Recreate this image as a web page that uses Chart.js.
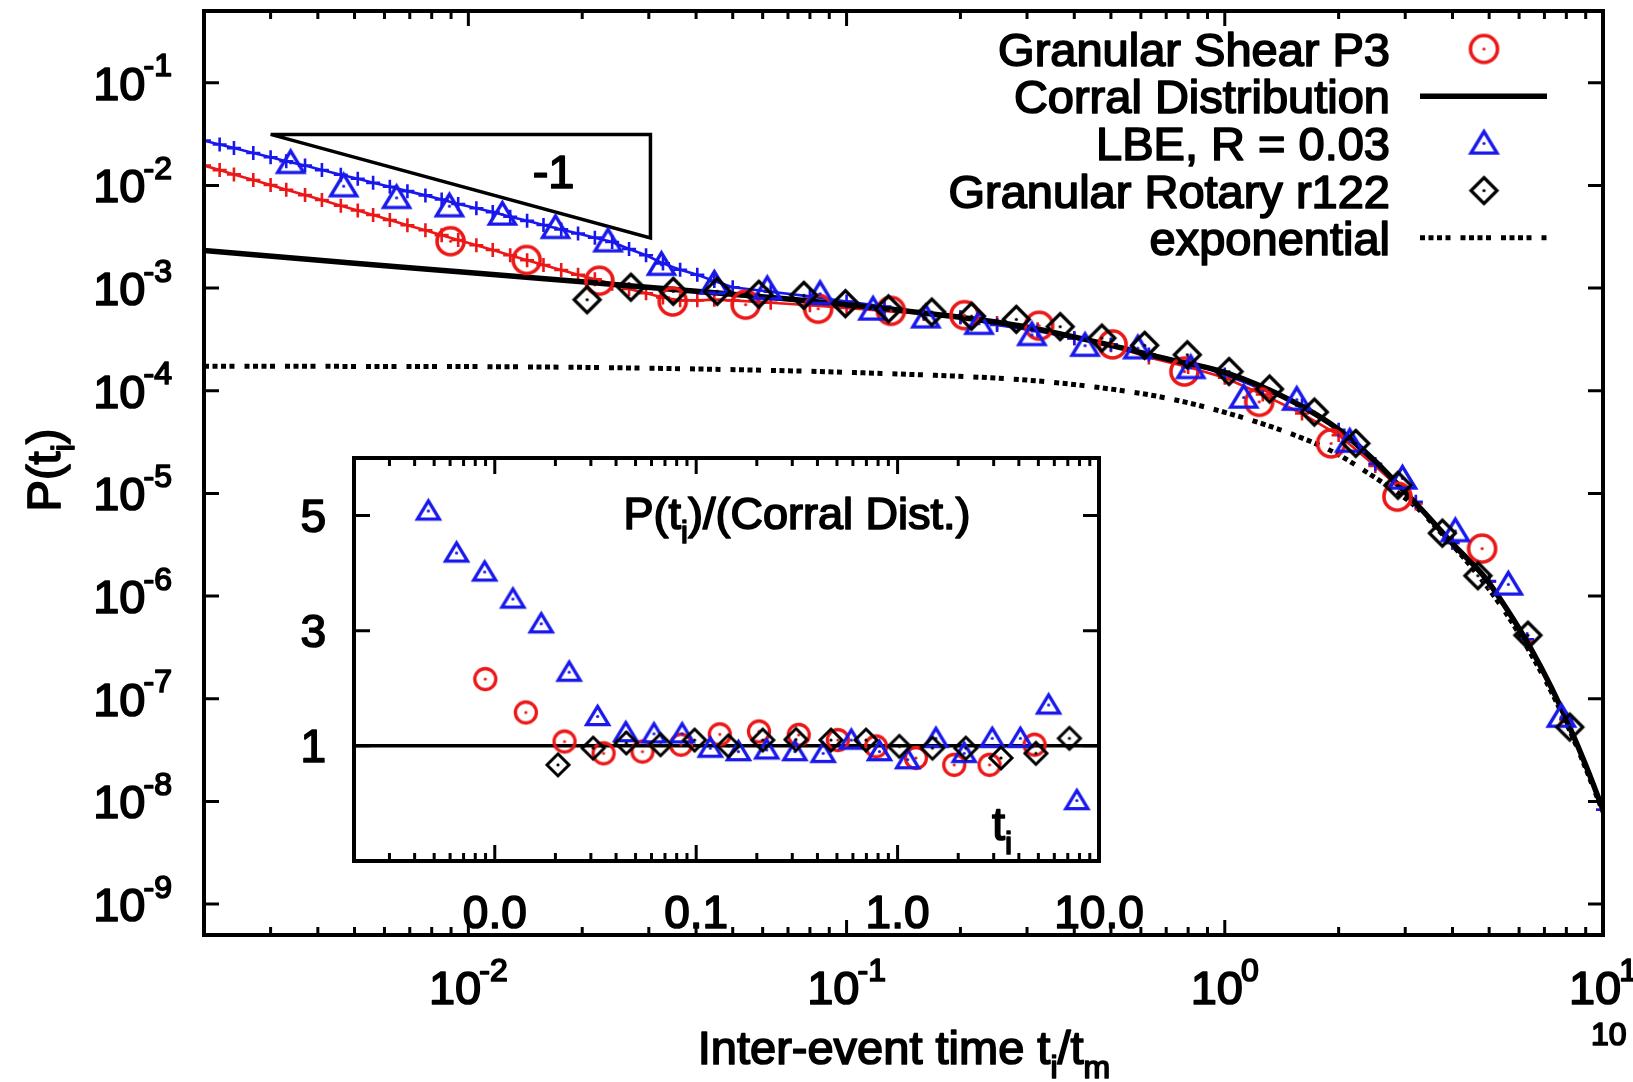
<!DOCTYPE html>
<html>
<head>
<meta charset="utf-8">
<script src="https://cdn.jsdelivr.net/npm/chart.js@4.4.1/dist/chart.umd.min.js"></script>
<style>
  html, body { margin: 0; padding: 0; background: #fff; }
  #wrap { position: relative; width: 1633px; height: 1082px; overflow: hidden; }
  #main { position: absolute; left: 0; top: 0; }
  #inset { position: absolute; left: 270px; top: 420px; }
</style>
</head>
<body>
<div id="wrap">
  <canvas id="main" width="1633" height="1082"></canvas>
  <canvas id="inset" width="900" height="520"></canvas>
</div>
<script>
// valores (t_i/t_m , P(t_i))
const shearX = [0.00897, 0.01426, 0.0222, 0.0347, 0.0541, 0.0841, 0.131, 0.205, 0.323, 0.505, 0.782, 1.233, 1.91, 2.86, 4.79];
const shearY = [2.86e-3, 1.88e-3, 1.18e-3, 7.4e-4, 6.9e-4, 6.3e-4, 6.0e-4, 5.45e-4, 4.3e-4, 2.83e-4, 1.54e-4, 7.8e-5, 3.07e-5, 9.3e-6, 2.9e-6];

const lbeX = [0.00339, 0.00468, 0.00646, 0.00891, 0.0123, 0.0170, 0.0234, 0.0324, 0.0447, 0.0617, 0.0851, 0.1175, 0.162, 0.224, 0.309, 0.427, 0.589, 0.813, 1.122, 1.55, 2.14, 2.95, 4.07, 5.62, 7.76];
const lbeY = [0.0166, 9.84e-3, 7.57e-3, 6.28e-3, 5.21e-3, 3.86e-3, 2.86e-3, 1.69e-3, 1.11e-3, 9.8e-4, 8.8e-4, 6.2e-4, 5.2e-4, 4.5e-4, 3.5e-4, 2.75e-4, 2.6e-4, 1.67e-4, 8.6e-5, 8.2e-5, 3.2e-5, 1.4e-5, 4.3e-6, 1.3e-6, 6.7e-8];

const rotaryX = [0.0206, 0.0269, 0.0348, 0.0455, 0.0586, 0.0771, 0.0993, 0.129, 0.168, 0.214, 0.281, 0.367, 0.473, 0.614, 0.796, 1.026, 1.313, 1.725, 2.22, 2.87, 3.76, 4.67, 6.33, 8.17];
const rotaryY = [7.7e-4, 1.02e-3, 9.3e-4, 9.3e-4, 8.7e-4, 8.5e-4, 7.05e-4, 6.27e-4, 5.84e-4, 5.32e-4, 4.96e-4, 4.21e-4, 3.26e-4, 2.77e-4, 2.24e-4, 1.54e-4, 1.04e-4, 6.2e-5, 3.07e-5, 1.2e-5, 4.1e-6, 1.58e-6, 4.16e-7, 5.3e-8];

const corralX = [0.002, 0.005, 0.01, 0.02, 0.05, 0.1, 0.2, 0.3, 0.5, 0.7, 1, 1.5, 2, 2.5, 2.9, 3.5, 4, 4.85, 5.5, 6.45, 7.3, 8.2, 9, 10];
const corralY = [2.32e-3, 1.75e-3, 1.42e-3, 1.15e-3, 8.7e-4, 6.9e-4, 5.2e-4, 4.17e-4, 2.77e-4, 2.05e-4, 1.51e-4, 8.0e-5, 4.2e-5, 2.06e-5, 1.17e-5, 5.6e-6, 3.24e-6, 1.55e-6, 8.0e-7, 3.07e-7, 1.29e-7, 5.1e-8, 2.26e-8, 8.3e-9];

const expoX = [0.002, 0.01, 0.04, 0.12, 0.3, 0.47, 0.7, 1.06, 1.59, 1.95, 2.38, 3.23, 3.65, 4.5, 5.5, 6.5, 7.5, 8.5, 10];
const expoY = [1.73e-4, 1.72e-4, 1.63e-4, 1.48e-4, 1.27e-4, 1.07e-4, 8.5e-5, 5.8e-5, 3.5e-5, 2.5e-5, 1.6e-5, 7.2e-6, 4.5e-6, 1.9e-6, 7.1e-7, 2.6e-7, 9.6e-8, 3.5e-8, 7.9e-9];

// curvas finas (lineas con +) de LBE y Granular Shear
const fineX = [0.0020, 0.0022, 0.0024, 0.0027, 0.0030, 0.0033, 0.0037, 0.0041, 0.0046, 0.0051, 0.0056, 0.0062, 0.0069, 0.0077, 0.0085, 0.0094, 0.0105, 0.0116, 0.0129, 0.0143, 0.0158, 0.0176, 0.0195, 0.0216, 0.024, 0.0266, 0.0295, 0.0327, 0.0363, 0.0403, 0.0447,
  0.05, 0.063, 0.08, 0.1, 0.126, 0.16, 0.2, 0.25, 0.32, 0.4, 0.5, 0.63, 0.8, 1.0, 1.26, 1.6, 2.0, 2.5, 3.2, 4.0, 5.0, 6.3, 8.0, 10];
const lbeFineY = [0.0273, 0.0250, 0.0231, 0.0207, 0.0188, 0.0172, 0.0156, 0.0141, 0.0127, 0.0116, 0.0106, 0.0097, 0.0088, 0.0080, 0.0073, 0.0066, 0.0060, 0.0055, 0.00495, 0.00452, 0.00412, 0.00373, 0.00340, 0.00310, 0.00281, 0.00240, 0.00209, 0.00174, 0.00151, 0.00135, 0.00117,
  1.02e-3, 9.2e-4, 8.3e-4, 7.4e-4, 6.6e-4, 5.75e-4, 5.2e-4, 4.37e-4, 3.8e-4, 3.24e-4, 2.83e-4, 2.26e-4, 1.86e-4, 1.44e-4, 1.03e-4, 7.2e-5, 4.16e-5, 1.94e-5, 8.3e-6, 3.3e-6, 1.4e-6, 3.8e-7, 6.4e-8, 8.3e-9];
const shearFineY = [0.0156, 0.0141, 0.0128, 0.0113, 0.0101, 0.00908, 0.00805, 0.00720, 0.00635, 0.00569, 0.00515, 0.00461, 0.00410, 0.00366, 0.00328, 0.00294, 0.00261, 0.00235, 0.00209, 0.00187, 0.00168, 0.00150, 0.00135, 0.00122, 0.00110, 0.00098, 0.00089, 0.00081, 0.00076, 0.00076, 0.00077,
  7.6e-4, 7.2e-4, 6.8e-4, 6.4e-4, 6.0e-4, 5.6e-4, 5.2e-4, 4.57e-4, 3.98e-4, 3.24e-4, 2.77e-4, 2.11e-4, 1.7e-4, 1.34e-4, 9.2e-5, 6.0e-5, 3.7e-5, 1.85e-5, 8.0e-6, 3.3e-6, 1.38e-6, 3.6e-7, 6.2e-8, 8.3e-9];

// triangulo de pendiente -1
const slopeX = [0.003, 0.0303, 0.0303, 0.003];
const slopeY = [0.0314, 0.0314, 0.00308, 0.0314];

// recuadro: P(t_i)/(Corral Dist.)
const inShearX = [0.00897, 0.01426, 0.0222, 0.0347, 0.0541, 0.0841, 0.131, 0.205, 0.323, 0.505, 0.782, 1.233, 1.91, 2.86, 4.79];
const inShearY = [2.16, 1.58, 1.075, 0.87, 0.9, 1.02, 1.2, 1.25, 1.19, 1.10, 0.99, 0.79, 0.67, 0.67, 1.02];
const inLbeX = [0.00468, 0.00646, 0.00891, 0.0123, 0.0170, 0.0234, 0.0324, 0.0447, 0.0617, 0.0851, 0.1175, 0.162, 0.224, 0.309, 0.427, 0.589, 0.813, 1.122, 1.55, 2.14, 2.95, 4.07, 5.62, 7.76];
const inLbeY = [5.08, 4.35, 4.02, 3.55, 3.12, 2.28, 1.51, 1.23, 1.21, 1.21, 0.96, 0.90, 0.93, 0.90, 0.87, 1.10, 0.90, 0.76, 1.13, 0.87, 1.13, 1.13, 1.71, 0.05];
const inRotX = [0.0206, 0.0308, 0.045, 0.0665, 0.0982, 0.1445, 0.214, 0.313, 0.467, 0.697, 1.02, 1.49, 2.18, 3.26, 4.86, 7.13];
const inRotY = [0.67, 0.96, 1.05, 1.02, 1.10, 1.0, 1.10, 1.11, 1.10, 1.10, 0.99, 0.96, 0.96, 0.79, 0.87, 1.13];
const inRefX = [0.002, 10];
const inRefY = [1, 1];

// ejes y textos
const yTickExp = [-1, -2, -3, -4, -5, -6, -7, -8, -9];
const xTickExp = [-2, -1, 0, 1];
const insetXTicks = [0.01, 0.1, 1, 10];
const insetXLabels = ['0.0', '0.1', '1.0', '10.0'];
const insetYTicks = [1, 3, 5];
const legendLabels = ['Granular Shear P3', 'Corral Distribution', 'LBE, R = 0.03', 'Granular Rotary r122', 'exponential'];

const RED = '#ec1818';
const BLUE = '#1818ec';
const BLACK = '#000';
const FONT = '"Liberation Sans", Arial, Helvetica, sans-serif';
const EXPO_DASH = [5, 3.5, 5, 3.5, 5, 3.5, 5, 10];

const pts = (xs, ys) => xs.map((x, i) => ({ x, y: ys[i] }));

/** Marcador estilo gnuplot (contorno + punto central) dibujado en un canvas. */
function marcador(forma, s, color, lw) {
  const dim = Math.ceil(2 * s + 2 * lw + 4);
  const c = document.createElement('canvas');
  c.width = c.height = dim;
  const g = c.getContext('2d');
  const m = dim / 2;
  g.strokeStyle = color;
  g.fillStyle = color;
  g.lineWidth = lw;
  g.beginPath();
  if (forma === 'circle') {
    g.arc(m, m, s, 0, Math.PI * 2);
  } else if (forma === 'triangle') {
    g.moveTo(m, m - s * 0.92);
    g.lineTo(m + s, m + s * 0.74);
    g.lineTo(m - s, m + s * 0.74);
    g.closePath();
  } else {
    g.moveTo(m, m - s);
    g.lineTo(m + s, m);
    g.lineTo(m, m + s);
    g.lineTo(m - s, m);
    g.closePath();
  }
  g.stroke();
  g.beginPath();
  g.arc(m, m, 1.6, 0, Math.PI * 2);
  g.fill();
  return c;
}

const circM = marcador('circle', 13.5, RED, 3.6);
const triM = marcador('triangle', 13, BLUE, 3.4);
const diaM = marcador('diamond', 13, BLACK, 3.2);
const circI = marcador('circle', 10.5, RED, 3.3);
const triI = marcador('triangle', 11, BLUE, 3.3);
const diaI = marcador('diamond', 11, BLACK, 3);

/** Texto con sub/superindices: parts = [[texto, ''|'sup'|'sub'], ...] */
function texto(ctx, parts, x, y, size, align) {
  const med = parts.map(([t, tipo]) => {
    const s = tipo ? size * 0.68 : size;
    ctx.font = s + 'px ' + FONT;
    const kern = tipo === 'sup' ? -size * 0.04 : 0;
    return { t, tipo, s, kern, w: ctx.measureText(t).width + kern };
  });
  const total = med.reduce((acc, p) => acc + p.w, 0);
  let cx = align === 'right' ? x - total : align === 'center' ? x - total / 2 : x;
  ctx.textAlign = 'left';
  ctx.textBaseline = 'alphabetic';
  ctx.fillStyle = BLACK;
  ctx.strokeStyle = BLACK;
  ctx.lineWidth = 1.7;
  ctx.lineJoin = 'round';
  med.forEach(p => {
    const dy = p.tipo === 'sup' ? -size * 0.5 : p.tipo === 'sub' ? size * 0.3 : 0;
    ctx.font = p.s + 'px ' + FONT;
    ctx.fillText(p.t, cx + p.kern, y + dy);
    ctx.strokeText(p.t, cx + p.kern, y + dy);
    cx += p.w;
  });
}

function menoresLog(min, max) {
  const out = [];
  for (let e = -4; e <= 2; e++) {
    for (let k = 2; k <= 9; k++) {
      const v = k * Math.pow(10, e);
      if (v > min * 1.0001 && v < max * 0.9999) out.push(v);
    }
  }
  return out;
}

const ejeOculto = {
  display: true,
  grid: { display: false, drawTicks: false },
  border: { display: false },
  ticks: { display: false },
  title: { display: false },
};

const mainDecor = {
  id: 'mainDecor',
  afterDraw(chart) {
    const { ctx, chartArea: a, scales: { x, y } } = chart;
    ctx.save();
    ctx.strokeStyle = BLACK;
    ctx.lineWidth = 3;
    ctx.beginPath();
    yTickExp.forEach(e => {
      const py = y.getPixelForValue(Math.pow(10, e));
      ctx.moveTo(a.left, py); ctx.lineTo(a.left + 15, py);
      ctx.moveTo(a.right, py); ctx.lineTo(a.right - 15, py);
    });
    xTickExp.forEach(e => {
      const px = x.getPixelForValue(Math.pow(10, e));
      ctx.moveTo(px, a.bottom); ctx.lineTo(px, a.bottom - 15);
      ctx.moveTo(px, a.top); ctx.lineTo(px, a.top + 15);
    });
    menoresLog(x.min, x.max).forEach(v => {
      const px = x.getPixelForValue(v);
      ctx.moveTo(px, a.bottom); ctx.lineTo(px, a.bottom - 8);
      ctx.moveTo(px, a.top); ctx.lineTo(px, a.top + 8);
    });
    ctx.stroke();
    ctx.lineWidth = 4;
    ctx.strokeRect(a.left, a.top, a.right - a.left, a.bottom - a.top);

    // etiquetas de ejes
    yTickExp.forEach(e => {
      const py = y.getPixelForValue(Math.pow(10, e));
      texto(ctx, [['10', ''], [String(e), 'sup']], 172, py + 17, 47, 'right');
    });
    xTickExp.forEach(e => {
      const px = x.getPixelForValue(Math.pow(10, e));
      texto(ctx, [['10', ''], [String(e), 'sup']], px, 1004, 47, 'center');
    });
    texto(ctx, [['Inter-event time t', ''], ['i', 'sub'], ['/t', ''], ['m', 'sub']], 904, 1064, 47, 'center');
    ctx.save();
    ctx.translate(43, 470);
    ctx.rotate(-Math.PI / 2);
    texto(ctx, [['P(t', ''], ['i', 'sub'], [')', '']], 0, 17, 47, 'center');
    ctx.restore();
    texto(ctx, [['10', '']], 1591, 1045, 32, 'left');

    // etiqueta de la pendiente
    texto(ctx, [['-1', '']], x.getPixelForValue(0.0168), y.getPixelForValue(0.0138) + 17, 47, 'center');

    // leyenda
    const ly = i => 49 + i * 47.2;
    legendLabels.forEach((t, i) => texto(ctx, [[t, '']], 1390, ly(i) + 17, 47, 'right'));
    const sx = 1484;
    ctx.drawImage(circM, sx - circM.width / 2, ly(0) - circM.height / 2);
    ctx.drawImage(triM, sx - triM.width / 2, ly(2) - triM.height / 2);
    ctx.drawImage(diaM, sx - diaM.width / 2, ly(3) - diaM.height / 2);
    ctx.strokeStyle = BLACK;
    ctx.lineWidth = 5.5;
    ctx.beginPath(); ctx.moveTo(1420, ly(1)); ctx.lineTo(1547, ly(1)); ctx.stroke();
    ctx.lineWidth = 5;
    ctx.setLineDash(EXPO_DASH);
    ctx.beginPath(); ctx.moveTo(1420, ly(4)); ctx.lineTo(1547, ly(4)); ctx.stroke();
    ctx.restore();
  },
};

const insetDecor = {
  id: 'insetDecor',
  afterDraw(chart) {
    const { ctx, chartArea: a, scales: { x, y } } = chart;
    ctx.save();
    ctx.strokeStyle = BLACK;
    ctx.lineWidth = 3;
    ctx.beginPath();
    insetYTicks.forEach(v => {
      const py = y.getPixelForValue(v);
      ctx.moveTo(a.left, py); ctx.lineTo(a.left + 16, py);
      ctx.moveTo(a.right, py); ctx.lineTo(a.right - 16, py);
    });
    insetXTicks.forEach(v => {
      const px = x.getPixelForValue(v);
      ctx.moveTo(px, a.bottom); ctx.lineTo(px, a.bottom - 16);
      ctx.moveTo(px, a.top); ctx.lineTo(px, a.top + 16);
    });
    menoresLog(x.min, x.max).forEach(v => {
      const px = x.getPixelForValue(v);
      ctx.moveTo(px, a.bottom); ctx.lineTo(px, a.bottom - 8);
      ctx.moveTo(px, a.top); ctx.lineTo(px, a.top + 8);
    });
    ctx.stroke();
    ctx.lineWidth = 4;
    ctx.strokeRect(a.left, a.top, a.right - a.left, a.bottom - a.top);

    insetYTicks.forEach(v => {
      texto(ctx, [[String(v), '']], a.left - 28, y.getPixelForValue(v) + 16.5, 46, 'right');
    });
    insetXTicks.forEach((v, i) => {
      texto(ctx, [[insetXLabels[i], '']], x.getPixelForValue(v), a.bottom + 67, 46, 'center');
    });
    texto(ctx, [['P(t', ''], ['i', 'sub'], [')/(Corral Dist.)', '']], 527, 109, 45, 'center');
    texto(ctx, [['t', ''], ['i', 'sub']], 722, 420, 47, 'left');
    ctx.restore();
  },
};

new Chart(document.getElementById('main'), {
  type: 'scatter',
  data: {
    datasets: [
      { label: 'Granular Rotary r122', data: pts(rotaryX, rotaryY), pointStyle: diaM, pointRadius: 5, order: 1 },
      { label: 'LBE, R = 0.03', data: pts(lbeX, lbeY), pointStyle: triM, pointRadius: 5, order: 2 },
      { label: 'Granular Shear P3', data: pts(shearX, shearY), pointStyle: circM, pointRadius: 5, order: 3 },
      { label: 'Corral Distribution', data: pts(corralX, corralY), showLine: true, borderColor: BLACK, borderWidth: 5.5,
        pointRadius: 0, cubicInterpolationMode: 'monotone', order: 4 },
      { label: 'LBE fino', data: pts(fineX, lbeFineY), showLine: true, borderColor: BLUE, borderWidth: 2.6,
        pointStyle: 'cross', pointRadius: 7, pointBorderWidth: 2.6, pointBorderColor: BLUE, order: 5 },
      { label: 'Shear fino', data: pts(fineX, shearFineY), showLine: true, borderColor: RED, borderWidth: 2.6,
        pointStyle: 'cross', pointRadius: 7, pointBorderWidth: 2.6, pointBorderColor: RED, order: 6 },
      { label: 'exponential', data: pts(expoX, expoY), showLine: true, borderColor: BLACK, borderWidth: 5,
        borderDash: EXPO_DASH, pointRadius: 0, cubicInterpolationMode: 'monotone', order: 7 },
      { label: 'pendiente', data: pts(slopeX, slopeY), showLine: true, borderColor: BLACK, borderWidth: 3.5,
        pointRadius: 0, order: 8 },
    ],
  },
  options: {
    responsive: false,
    animation: false,
    devicePixelRatio: 1,
    events: [],
    layout: { padding: { left: 204, right: 30, top: 11, bottom: 147 } },
    plugins: { legend: { display: false }, tooltip: { enabled: false } },
    scales: {
      x: { ...ejeOculto, type: 'logarithmic', min: 0.002, max: 10, bounds: 'data' },
      y: { ...ejeOculto, type: 'logarithmic', min: 5e-10, max: 0.5, bounds: 'data' },
    },
  },
  plugins: [mainDecor],
});

new Chart(document.getElementById('inset'), {
  type: 'scatter',
  data: {
    datasets: [
      { label: 'rot', data: pts(inRotX, inRotY), pointStyle: diaI, pointRadius: 5, order: 1 },
      { label: 'lbe', data: pts(inLbeX, inLbeY), pointStyle: triI, pointRadius: 5, order: 2 },
      { label: 'shear', data: pts(inShearX, inShearY), pointStyle: circI, pointRadius: 5, order: 3 },
      { label: 'ref', data: pts(inRefX, inRefY), showLine: true, borderColor: BLACK, borderWidth: 3.5, pointRadius: 0, order: 4 },
    ],
  },
  options: {
    responsive: false,
    animation: false,
    devicePixelRatio: 1,
    events: [],
    layout: { padding: { left: 84, right: 71, top: 38, bottom: 79 } },
    plugins: { legend: { display: false }, tooltip: { enabled: false } },
    scales: {
      x: { ...ejeOculto, type: 'logarithmic', min: 0.002, max: 10, bounds: 'data' },
      y: { ...ejeOculto, type: 'linear', min: -1, max: 6, bounds: 'data' },
    },
  },
  plugins: [insetDecor],
});
</script>
</body>
</html>
